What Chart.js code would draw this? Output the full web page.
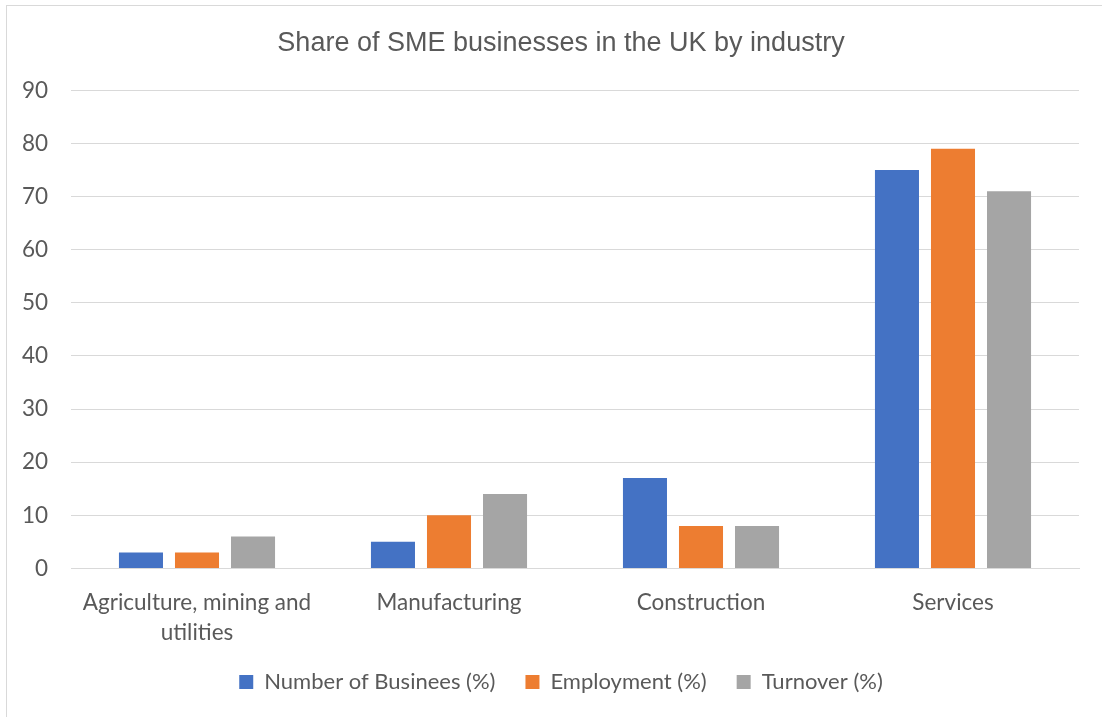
<!DOCTYPE html>
<html lang="en">
<head>
  <meta charset="UTF-8">
  <title>Share of SME businesses in the UK by industry</title>
  <script src="https://cdn.jsdelivr.net/npm/chart.js"></script>
  <style>
    html, body { margin: 0; padding: 0; background: #fff; }
    #wrap { position: relative; width: 1102px; height: 717px; }
    #frame { position: absolute; left: 6px; top: 5px; right: 0; bottom: 0;
             border-top: 1px solid #d9d9d9; border-left: 1px solid #d9d9d9; }
    canvas { position: absolute; left: 0; top: 0; }
  </style>
</head>
<body>
  <div id="wrap">
    <div id="frame"></div>
    <canvas id="chart" width="1102" height="717"></canvas>
  </div>

  <script>
    const categories = [['Agriculture, mining and', 'utilities'], 'Manufacturing', 'Construction', 'Services'];
    const seriesNames = ['Number of Businees (%)', 'Employment (%)', 'Turnover (%)'];
    const businesses = [3, 5, 17, 75];
    const employment = [3, 10, 8, 79];
    const turnover = [6, 14, 8, 71];
    const colors = ['#4472C4', '#ED7D31', '#A5A5A5'];

    const labelFont = { family: 'Lato, "Open Sans", sans-serif', size: 22.5, lineHeight: 1.3 };
    const legendFont = { family: 'Lato, "Open Sans", sans-serif', size: 22 };
    const textColor = '#595959';

    new Chart(document.getElementById('chart').getContext('2d'), {
      type: 'bar',
      data: {
        labels: categories,
        datasets: [businesses, employment, turnover].map((values, i) => ({
          label: seriesNames[i],
          data: values,
          backgroundColor: colors[i],
          categoryPercentage: 0.667,
          barPercentage: 0.786
        }))
      },
      options: {
        responsive: false,
        animation: false,
        layout: { padding: { top: 27, left: 20, right: 0, bottom: 14 } },
        plugins: {
          title: {
            display: true,
            text: 'Share of SME businesses in the UK by industry',
            color: textColor,
            font: { family: '"Liberation Sans", Arial, sans-serif', size: 27, weight: 'normal', lineHeight: 1.2 },
            padding: { top: 0, bottom: 31 }
          },
          legend: {
            position: 'bottom',
            labels: {
              color: textColor,
              font: legendFont,
              boxWidth: 14,
              boxHeight: 14,
              padding: 30
            }
          },
          tooltip: { enabled: false }
        },
        scales: {
          x: {
            grid: { display: false },
            border: { color: '#d9d9d9' },
            ticks: { color: textColor, font: labelFont, padding: 12, maxRotation: 0 },
            afterFit: scale => { scale.height = 72.6; }
          },
          y: {
            min: 0,
            max: 90,
            ticks: { stepSize: 10, color: textColor, font: labelFont, padding: 23 },
            grid: { color: '#d9d9d9', drawTicks: false },
            border: { display: false },
            afterFit: scale => { scale.width = 51; }
          },
          // empty right-hand box: keeps the plot ending at x=1079 while title/legend centre on the full width
          spacer: {
            type: 'linear',
            position: 'right',
            grid: { display: false },
            border: { display: false },
            ticks: { display: false },
            afterFit: scale => { scale.width = 23; }
          }
        }
      }
    });
  </script>
</body>
</html>
